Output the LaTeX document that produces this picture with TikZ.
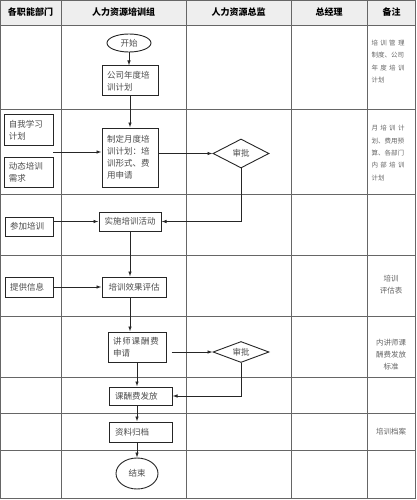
\documentclass[tikz,border=0pt]{standalone}
\usepackage{fontspec}
\setmainfont{Noto Sans CJK SC}
\usetikzlibrary{arrows.meta,shapes.geometric}
\newcommand\jst[2]{\makebox[#1][s]{#2}}
\begin{document}
\begin{tikzpicture}[x=1pt,y=-1pt,
  tbl/.style={draw=black!60, line width=0.8pt},
  hdr/.style={font=\fontsize{9}{11}\selectfont\bfseries, text=black},
  box/.style={draw=black!85, line width=1pt, fill=white, inner xsep=5pt, inner ysep=2pt,
    font=\fontsize{8.5}{12}\selectfont, text=black!70, align=left},
  term/.style={ellipse, draw=black!85, line width=0.9pt, fill=white, inner sep=0pt,
    font=\fontsize{8.5}{12}\selectfont, text=black!70},
  dia/.style={diamond, aspect=2, draw=black!85, line width=0.9pt, fill=white, inner sep=0pt,
    font=\fontsize{8.5}{12}\selectfont, text=black!70},
  note/.style={font=\fontsize{6.5}{12.3}\selectfont, text=black!60, align=left, text width=33pt, inner sep=0pt},
  note2/.style={font=\fontsize{7.5}{12}\selectfont, text=black!60, align=center, inner sep=0pt},
  arr/.style={-{Latex[length=5pt,width=3.5pt]}, line width=0.8pt, draw=black!85}]
\useasboundingbox (0,0) rectangle (416,500);
% table
\fill[gray!13] (0,0) rectangle (416,25);
\draw[tbl] (0.5,0.5) rectangle (415.5,498.5);
\foreach \yy in {25,109,194,255,316,377,413,450} \draw[tbl] (0,\yy) -- (416,\yy);
\foreach \xx in {61,186,291,367} \draw[tbl] (\xx,0) -- (\xx,498.5);
% headers
\node[hdr] (h1) at (30.5,12.5) {各职能部门};
\node[hdr] (h2) at (123.5,12.5) {人力资源培训组};
\node[hdr] (h3) at (238.5,12.5) {人力资源总监};
\node[hdr] (h4) at (329,12.5) {总经理};
\node[hdr] (h5) at (391.5,12.5) {备注};
% flow nodes
\node[term, minimum width=44pt, minimum height=18pt] (start) at (129,43) {开始};
\node[box, text width=46pt, minimum height=30pt] (plan) at (130,81) {公司年度培\\训计划};
\node[box, text width=46pt, minimum height=59pt] (monthly) at (130,157.5) {制定月度培\\训计划：培\\训形式、费\\用申请};
\node[box, text width=39pt, minimum height=30pt] (self) at (28.5,130) {自我学习\\计划};
\node[box, text width=39pt, minimum height=30pt] (dyn) at (28.5,172) {动态培训\\需求};
\node[dia, minimum width=56pt, minimum height=29pt] (d1) at (241,153.5) {审批};
\node[box, text width=52pt, minimum height=19pt, align=center] (impl) at (130,221.5) {实施培训活动};
\node[box, text width=38pt, minimum height=19pt] (join) at (29,226.5) {参加培训};
\node[box, text width=54pt, minimum height=20pt, align=center] (eval) at (134,287) {培训效果评估};
\node[box, text width=38pt, minimum height=20pt] (info) at (29,287) {提供信息};
\node[box, text width=48pt, minimum height=30pt] (lect) at (137,347) {\jst{46pt}{讲\hfill 师\hfill 课\hfill 酬\hfill 费}\\申请};
\node[dia, minimum width=56pt, minimum height=21pt] (d2) at (241,352) {审批};
\node[box, text width=51pt, inner xsep=6pt, minimum height=18pt] (pay) at (140.5,396) {课酬费发放};
\node[box, text width=51pt, inner xsep=6pt, minimum height=20pt] (arch) at (140.5,432) {资料归档};
\node[term, minimum width=42pt, minimum height=31pt] (end) at (137,473.5) {结束};
% notes
\node[note] (n1) at (388,61.5) {\jst{33pt}{培\hfill 训\hfill 管\hfill 理}\\制度、公司\\\jst{33pt}{年\hfill 度\hfill 培\hfill 训}\\计划};
\node[note] (n2) at (388,153) {\jst{33pt}{月\hfill 培\hfill 训\hfill 计}\\划、费用预\\算、各部门\\\jst{33pt}{内\hfill 部\hfill 培\hfill 训}\\计划};
\node[note2] (n3) at (391,285) {培训\\评估表};
\node[note2] (n4) at (391,355) {内讲师课\\酬费发放\\标准};
\node[note2] (n5) at (391,432) {培训档案};
% connectors
\draw[arr] (start.south) -- (start.south |- plan.north);
\draw[arr] (plan.south) -- (monthly.north);
\coordinate (j1) at (53,152);
\draw[arr] (j1) -- (j1 -| monthly.west);
\draw[arr] (d1.west -| monthly.east) -- (d1.west);
\draw[arr] (d1.south) |- (impl.east);
\draw[arr] (join.east |- impl.west) -- (impl.west);
\draw[arr] (impl.south) -- (impl.south |- eval.north);
\draw[arr] (info.east) -- (eval.west);
\draw[arr] (impl.south |- eval.south) -- (impl.south |- lect.north);
\coordinate (l2) at ([xshift=5pt]lect.east);
\draw[arr] (l2 |- d2.west) -- (d2.west);
\draw[arr] (lect.south) -- (lect.south |- pay.north);
\draw[arr] (d2.south) |- (pay.east);
\draw[arr] (lect.south |- pay.south) -- (lect.south |- arch.north);
\draw[arr] (lect.south |- arch.south) -- (end.north);
\end{tikzpicture}
\end{document}
